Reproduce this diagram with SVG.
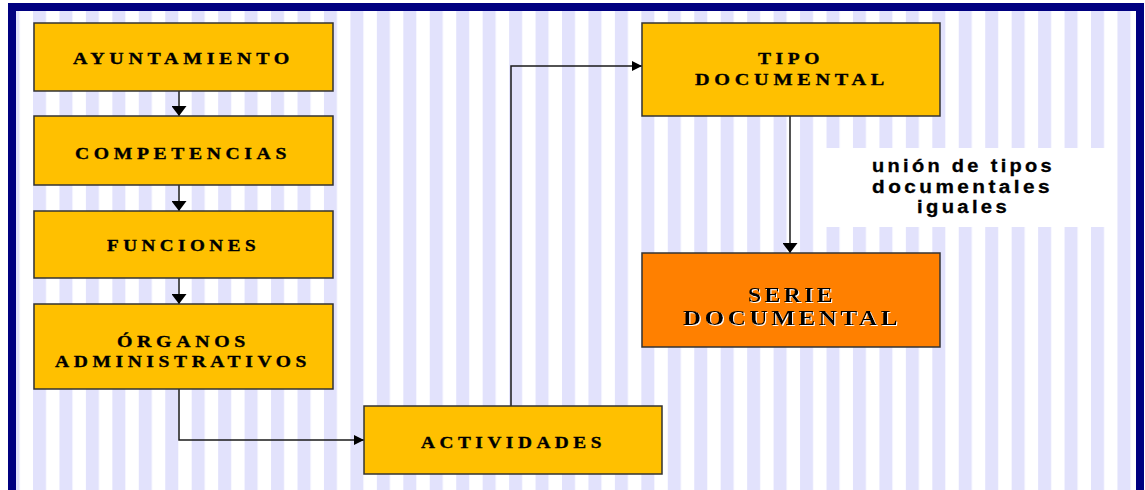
<svg xmlns="http://www.w3.org/2000/svg" width="1145" height="490" viewBox="0 0 1145 490">
  <style>
    .box { fill: #ffc000; stroke: #333333; stroke-width: 1.5; }
    .box-hot { fill: #ff8000; stroke: #333333; stroke-width: 1.5; }
    .lbl { font-family: "Liberation Serif", "Times New Roman", serif; font-weight: bold; font-size: 17px; letter-spacing: 4px; fill: #000000; stroke: #000000; stroke-width: 0.35; }
    .lbl-big { font-family: "Liberation Serif", "Times New Roman", serif; font-weight: bold; font-size: 21px; letter-spacing: 3px; fill: #000000; filter: url(#emboss); }
    .note { font-family: "Liberation Sans", Arial, sans-serif; font-weight: bold; font-size: 18px; letter-spacing: 3px; fill: #000000; stroke: #000000; stroke-width: 0.3; }
    .wire { fill: none; stroke: #1a1a1a; stroke-width: 1.5; }
  </style>
  <defs>
    <pattern id="stripes" patternUnits="userSpaceOnUse" x="6.55" y="0" width="26.45" height="490">
      <rect x="0" y="0" width="13" height="490" fill="#e2e2fc"/>
    </pattern>
    <filter id="emboss" x="-5%" y="-20%" width="110%" height="140%">
      <feOffset in="SourceAlpha" dx="1" dy="1" result="off"/>
      <feFlood flood-color="#ffffff"/>
      <feComposite in2="off" operator="in" result="light"/>
      <feMerge>
        <feMergeNode in="light"/>
        <feMergeNode in="SourceGraphic"/>
      </feMerge>
    </filter>
    <marker id="arrow" viewBox="0 0 10 10" refX="10" refY="5" markerWidth="10" markerHeight="10" markerUnits="userSpaceOnUse" orient="auto">
      <path d="M0,0 L10,5 L0,10 Z" fill="#000000"/>
    </marker>
    <marker id="arrow-v" viewBox="0 0 10 15" refX="10" refY="7.5" markerWidth="10" markerHeight="15" markerUnits="userSpaceOnUse" orient="auto">
      <path d="M0,0 L10,7.5 L0,15 Z" fill="#000000"/>
    </marker>
  </defs>

  <!-- page background, striped panel and navy frame -->
  <rect x="0" y="0" width="1145" height="490" fill="#ffffff"/>
  <rect x="16" y="11" width="1120" height="479" fill="url(#stripes)"/>
  <rect x="8" y="3" width="1136" height="8" fill="#000080"/>
  <rect x="8" y="3" width="8" height="487" fill="#000080"/>
  <rect x="1136" y="3" width="8" height="487" fill="#000080"/>

  <!-- connectors -->
  <g id="connectors">
    <path class="wire" d="M179,91 V116" marker-end="url(#arrow-v)"/>
    <path class="wire" d="M179,185 V211" marker-end="url(#arrow-v)"/>
    <path class="wire" d="M179,278 V304" marker-end="url(#arrow-v)"/>
    <path class="wire" d="M179,389 V440 H364" marker-end="url(#arrow)"/>
    <path class="wire" d="M511,406 V66 H642" marker-end="url(#arrow)"/>
    <path class="wire" d="M790,116 V253" marker-end="url(#arrow-v)"/>
  </g>

  <g id="ayuntamiento">
    <rect class="box" x="34" y="23" width="299" height="68"/>
    <text class="lbl" x="73" y="64" textLength="221" lengthAdjust="spacingAndGlyphs">AYUNTAMIENTO</text>
  </g>

  <g id="competencias">
    <rect class="box" x="34" y="116" width="299" height="69"/>
    <text class="lbl" x="75" y="159" textLength="216" lengthAdjust="spacingAndGlyphs">COMPETENCIAS</text>
  </g>

  <g id="funciones">
    <rect class="box" x="34" y="211" width="299" height="67"/>
    <text class="lbl" x="107" y="251" textLength="153" lengthAdjust="spacingAndGlyphs">FUNCIONES</text>
  </g>

  <g id="organos">
    <rect class="box" x="34" y="304" width="299" height="85"/>
    <text class="lbl"><tspan x="117" y="347" textLength="133" lengthAdjust="spacingAndGlyphs">ÓRGANOS</tspan><tspan x="55" y="367" textLength="256" lengthAdjust="spacingAndGlyphs">ADMINISTRATIVOS</tspan></text>
  </g>

  <g id="actividades">
    <rect class="box" x="364" y="406" width="298" height="68"/>
    <text class="lbl" x="421" y="448" textLength="185" lengthAdjust="spacingAndGlyphs">ACTIVIDADES</text>
  </g>

  <g id="tipo-documental">
    <rect class="box" x="642" y="23" width="298" height="93"/>
    <text class="lbl"><tspan x="758" y="64" textLength="66" lengthAdjust="spacingAndGlyphs">TIPO</tspan><tspan x="695" y="85" textLength="194" lengthAdjust="spacingAndGlyphs">DOCUMENTAL</tspan></text>
  </g>

  <g id="serie-documental">
    <rect class="box-hot" x="642" y="253" width="298" height="94"/>
    <text class="lbl-big"><tspan x="748" y="302" textLength="88" lengthAdjust="spacingAndGlyphs">SERIE</tspan><tspan x="683" y="325" textLength="218" lengthAdjust="spacingAndGlyphs">DOCUMENTAL</tspan></text>
  </g>

  <g id="note">
    <rect x="815" y="148" width="298" height="79" fill="#ffffff"/>
    <text class="note"><tspan x="872" y="172" textLength="183" lengthAdjust="spacingAndGlyphs">unión de tipos</tspan><tspan x="872" y="193" textLength="181" lengthAdjust="spacingAndGlyphs">documentales</tspan><tspan x="917" y="213" textLength="93" lengthAdjust="spacingAndGlyphs">iguales</tspan></text>
  </g>
</svg>
